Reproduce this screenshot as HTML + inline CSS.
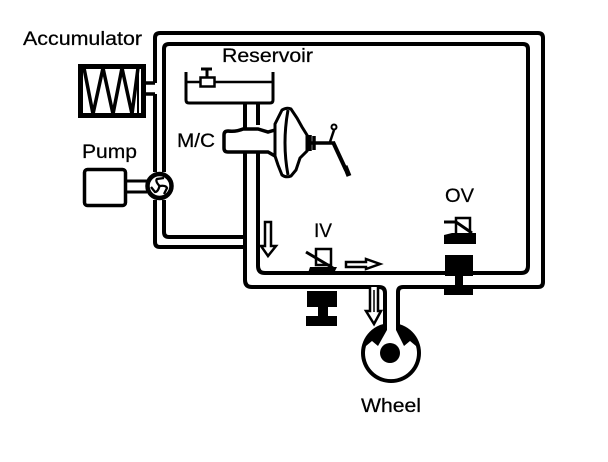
<!DOCTYPE html>
<html>
<head>
<meta charset="utf-8">
<style>
html,body{margin:0;padding:0;background:#fff;width:608px;height:462px;overflow:hidden}
svg{display:block}
text{font-family:"Liberation Sans",sans-serif;font-size:19px;fill:#000;stroke:#000;stroke-width:.25}
</style>
</head>
<body>
<svg width="608" height="462" viewBox="0 0 608 462" xmlns="http://www.w3.org/2000/svg">
<rect width="608" height="462" fill="#fff"/>
<g fill="none" stroke="#000" stroke-width="4">
  <!-- outer pipe -->
  <path d="M155 83V38Q155 33 160 33H538Q543 33 543 38V282Q543 287 538 287H403Q398 287 398 292V329"/>
  <path d="M155 94V172"/>
  <path d="M155 200V242Q155 247 160 247H245"/>
  <path d="M245 152V280Q245 287 252 287H379Q385 287 385 293V329"/>
  <!-- inner pipe -->
  <path d="M164 172V49Q164 44 169 44H523Q528 44 528 49V266Q528 273 521 273H265Q258 273 258 266V152"/>
  <path d="M164 200V232Q164 237 169 237H247"/>
  <!-- accumulator stubs -->
  <path d="M146 83H155M146 94H155" stroke-width="3.5"/>
  <!-- pump -->
  <rect x="84.500" y="169.500" width="41" height="36" rx="3" stroke-width="3.500"/>
  <path d="M127 181H147M127 192H147" stroke-width="3"/>
  <circle cx="159.500" cy="186" r="12" stroke-width="4.500" fill="#fff"/>
  <!-- accumulator -->
  <rect x="80.500" y="66.500" width="63" height="49" stroke-width="5"/>
  <path d="M84 68L93 114L103 68L113 114L122 68L132 114L138 68" stroke-width="3.500"/>
  <path d="M138 68V114" stroke-width="2"/>
  <!-- reservoir -->
  <path d="M186 72V100Q186 103 189 103H270Q273 103 273 100V72" stroke-width="3"/>
  <path d="M186 82H200M215 82H273" stroke-width="2.500"/>
  <rect x="200.500" y="77.500" width="14" height="9" stroke-width="2.500" fill="#fff"/>
  <path d="M207 68V77M201 69H212" stroke-width="3"/>
  <path d="M245 103V130M258 103V125" stroke-width="4"/>
  <!-- master cylinder and booster -->
  <path d="M275 130L268 132L258 129H243Q236 132 228 131Q224 131 224 135V148Q224 152 228 152H268L275 156" stroke-width="3.500" fill="#fff"/>
  <path d="M275 124L278 118L282 110Q287 107 291 109L297 118L302 127L307 135V151L300 158L296 170L291 176Q286 178 282 175L278 165L275 156Z" stroke-width="3" fill="#fff"/>
  <path d="M288 110Q282 143 288 175" stroke-width="3"/>
  <path d="M307 143H335" stroke-width="3.500"/>
  <path d="M310 135V151M314 136V150" stroke-width="3.500"/>
  <path d="M334 130L330 142" stroke-width="2.500"/>
  <circle cx="334" cy="127" r="2.500" stroke-width="2" fill="#fff"/>
  <path d="M333 142L346 170" stroke-width="4"/>
  <path d="M345 166L349 176" stroke-width="5"/>
  <!-- arrows -->
  <path d="M265 222H271V246H276L268 256L261 246H265Z" stroke-width="2.500"/>
  <path d="M346 262H366V259L380 264L366 269V267H346Z" stroke-width="2.500"/>
  <path d="M370 287V311H366L374 324L381 311H378V287" stroke-width="2.500" fill="#fff"/>
  <path d="M374 290V312" stroke-width="1.500"/>
  <!-- IV -->
  <rect x="316" y="249" width="15" height="16" stroke-width="2.500"/>
  <path d="M306 252L333 268" stroke-width="3"/>
  <!-- OV -->
  <path d="M456 233V218H470V233" stroke-width="2.500"/>
  <path d="M444 222H456L472 233" stroke-width="3"/>
</g>
<!-- pinwheel -->
<g fill="none" stroke="#000" stroke-width="2.300">
  <path d="M159.500 186Q155 181 157 179L164 178"/>
  <path d="M159.500 186Q166 185 167 188L164 194"/>
  <path d="M159.500 186Q158 192 155 192L151 187"/>
</g>
<g fill="#000">
  <!-- IV solid parts -->
  <path d="M308 273L310 267H337L334 273Z"/>
  <rect x="307" y="291" width="30" height="16"/>
  <rect x="318" y="306" width="10" height="11"/>
  <rect x="306" y="316" width="31" height="10"/>
  <!-- OV solid parts -->
  <path d="M444 244V235L452 233H476V244Z"/>
  <rect x="445" y="255" width="28" height="21"/>
  <rect x="455" y="275" width="8" height="13"/>
  <rect x="444" y="287" width="29" height="8"/>
</g>
<!-- wheel -->
<circle cx="391" cy="353" r="30" fill="#000"/>
<path d="M366 346A26 26 0 1 0 416 346L410 341L404 346L396 330H387L378 346L372 341Z" fill="#fff"/>
<circle cx="390" cy="353" r="10" fill="#000"/>
<rect x="387" y="289" width="9" height="42" fill="#fff"/>
<!-- labels -->
<text x="23" y="45" textLength="119" lengthAdjust="spacingAndGlyphs">Accumulator</text>
<text x="82" y="158" textLength="55" lengthAdjust="spacingAndGlyphs">Pump</text>
<text x="222" y="62" textLength="91" lengthAdjust="spacingAndGlyphs">Reservoir</text>
<text x="177" y="147" textLength="38" lengthAdjust="spacingAndGlyphs">M/C</text>
<text x="314" y="237" textLength="18" lengthAdjust="spacingAndGlyphs">IV</text>
<text x="445" y="202" textLength="29" lengthAdjust="spacingAndGlyphs">OV</text>
<text x="361" y="412" textLength="60" lengthAdjust="spacingAndGlyphs">Wheel</text>
</svg>
</body>
</html>
